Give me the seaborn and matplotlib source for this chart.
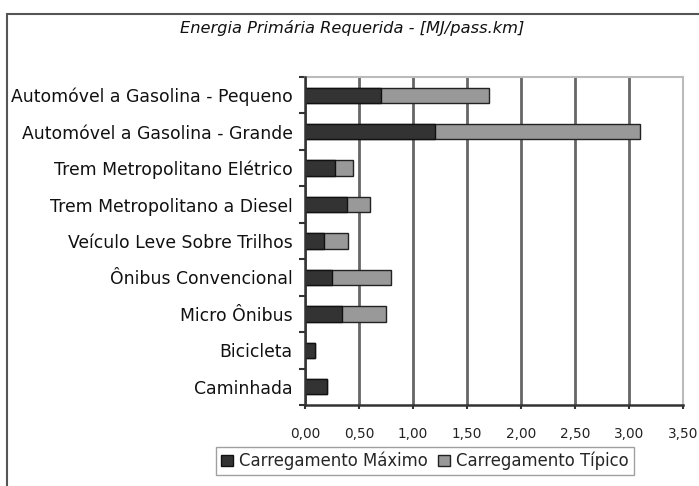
import pandas as pd
import matplotlib
matplotlib.use("Agg")
import matplotlib.pyplot as plt
import seaborn as sns
from matplotlib.patches import Patch, Rectangle
from matplotlib.ticker import MultipleLocator, FuncFormatter

categorias = ["Automóvel a Gasolina - Pequeno",
              "Automóvel a Gasolina - Grande",
              "Trem Metropolitano Elétrico",
              "Trem Metropolitano a Diesel",
              "Veículo Leve Sobre Trilhos",
              "Ônibus Convencional",
              "Micro Ônibus",
              "Bicicleta",
              "Caminhada"]
carregamento_maximo = [0.70, 1.20, 0.28, 0.39, 0.18, 0.25, 0.34, 0.09, 0.20]
carregamento_tipico = [1.00, 1.90, 0.16, 0.21, 0.22, 0.55, 0.41, 0.00, 0.00]

dados = pd.DataFrame({"modo": categorias,
                      "maximo": carregamento_maximo,
                      "tipico": carregamento_tipico})
dados["total"] = dados["maximo"] + dados["tipico"]

sns.set_style("white")
plt.rcParams["font.family"] = ["DejaVu Sans"]

escuro = "#333333"
claro = "#999999"

fig = plt.figure(figsize=(6.99, 4.86), dpi=100)
ax = fig.add_axes([305 / 699, 1 - 405 / 486, 378 / 699, 328 / 486])

# borda externa do grafico (estilo excel)
fig.patches.append(Rectangle((7 / 699, -0.05), 1.1, 1 - 14 / 486 + 0.05,
                             transform=fig.transFigure, fill=False,
                             edgecolor="#555555", linewidth=1.5))

sns.barplot(data=dados, y="modo", x="total", color=claro, orient="h",
            width=0.42, edgecolor="#222222", linewidth=1, ax=ax, zorder=3)
sns.barplot(data=dados, y="modo", x="maximo", color=escuro, orient="h",
            width=0.42, edgecolor="#111111", linewidth=1, ax=ax, zorder=4)

ax.set_xlim(0, 3.5)
ax.set_ylim(8.5, -0.5)
ax.xaxis.set_major_locator(MultipleLocator(0.5))
ax.xaxis.set_major_formatter(FuncFormatter(lambda v, p: f"{v:.2f}".replace(".", ",")))
ax.grid(axis="x", color="#666666", linewidth=2, zorder=0)
ax.set_axisbelow(True)
ax.set_xlabel("")
ax.set_ylabel("")

for lado in ["top", "right"]:
    ax.spines[lado].set_color("#bbbbbb")
    ax.spines[lado].set_linewidth(1.5)
for lado in ["left", "bottom"]:
    ax.spines[lado].set_color("#333333")
    ax.spines[lado].set_linewidth(1.8)
    ax.spines[lado].set_zorder(5)

ax.set_yticks([i + 0.5 for i in range(-1, 9)], minor=True)
ax.tick_params(axis="y", which="major", length=0, pad=9, labelsize=12.4,
               labelcolor="#111111")
ax.tick_params(axis="y", which="minor", left=True, length=4, width=1.5,
               color="#333333", direction="out")
ax.tick_params(axis="x", which="major", bottom=True, length=3, width=1.5,
               color="#333333", pad=13, labelsize=9.8, labelcolor="#222222")

fig.text(352 / 699, 1 - 28 / 486, "Energia Primária Requerida - [MJ/pass.km]",
         ha="center", va="center", fontsize=11.7, style="italic", color="#111111")

handles = [Patch(facecolor=escuro, edgecolor="#111111", label="Carregamento Máximo"),
           Patch(facecolor=claro, edgecolor="#222222", label="Carregamento Típico")]
fig.legend(handles=handles, loc="center", bbox_to_anchor=(425 / 699, 1 - 461 / 486),
           ncol=2, frameon=True, fontsize=11.9, handlelength=0.7, handleheight=0.7,
           handletextpad=0.4, columnspacing=0.6, borderpad=0.3,
           fancybox=False, edgecolor="#888888")

fig.savefig("out.png", dpi=100, facecolor="white")
